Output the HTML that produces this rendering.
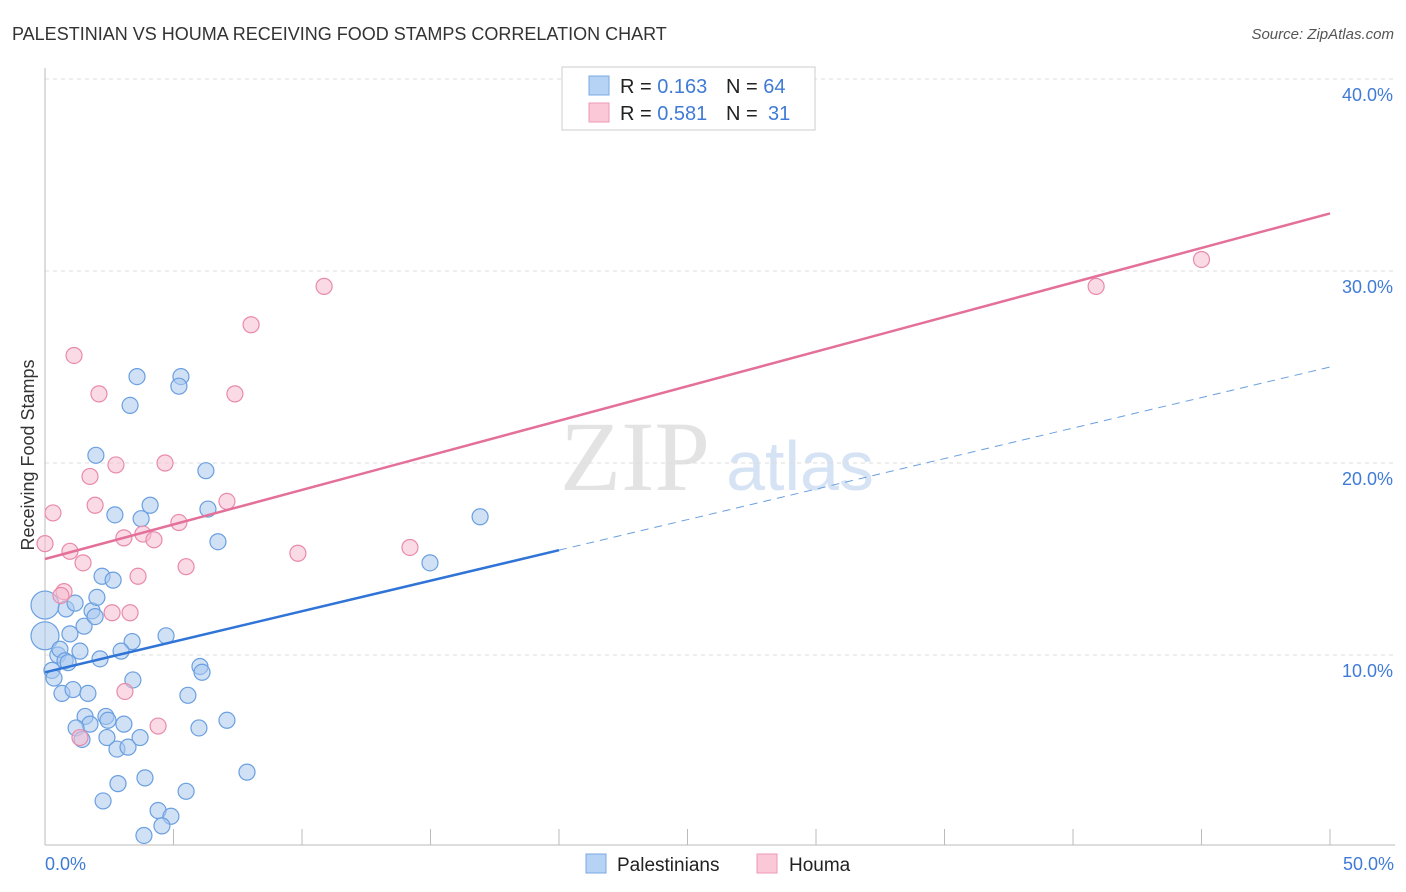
<!DOCTYPE html>
<html><head><meta charset="utf-8"><style>
body{margin:0;background:#fff;font-family:"Liberation Sans",sans-serif}
svg{display:block}
</style></head><body>
<svg id="c" width="1406" height="892" viewBox="0 0 1406 892" xmlns="http://www.w3.org/2000/svg">
<text x="12" y="40" font-size="18" fill="#333">PALESTINIAN VS HOUMA RECEIVING FOOD STAMPS CORRELATION CHART</text>
<text x="1394" y="39" font-size="15" fill="#555" font-style="italic" text-anchor="end">Source: ZipAtlas.com</text>
<text x="635" y="490" font-size="100" fill="#e3e3e3" font-family="Liberation Serif,serif" text-anchor="middle">ZIP</text>
<text x="800" y="490" font-size="70" fill="#d5e3f5" text-anchor="middle">atlas</text>
<g id="grid"></g><g id="axes"></g><g id="marks"></g>
<text transform="translate(34,455) rotate(-90)" font-size="18" fill="#333" text-anchor="middle">Receiving Food Stamps</text>
<text x="45" y="870" font-size="18" fill="#3f7bd6">0.0%</text>
<text x="1394" y="870" font-size="18" fill="#3f7bd6" text-anchor="end">50.0%</text>
<g>
<rect x="562" y="67" width="253" height="63" fill="#fff" stroke="#ccc"/>
<rect x="589" y="76" width="20" height="19" fill="#b6d2f4" stroke="#7aa9e4"/>
<rect x="589" y="103" width="20" height="19" fill="#fbc8d8" stroke="#ec9ab5"/>
<text x="620" y="93" font-size="20" fill="#222">R = <tspan fill="#3f7bd6">0.163</tspan><tspan x="726">N = </tspan><tspan fill="#3f7bd6">64</tspan></text>
<text x="620" y="120" font-size="20" fill="#222">R = <tspan fill="#3f7bd6">0.581</tspan><tspan x="726">N = </tspan><tspan fill="#3f7bd6" x="768">31</tspan></text>
</g>
<g>
<rect x="586" y="854" width="20" height="19" fill="#b6d2f4" stroke="#7aa9e4"/>
<text x="617" y="871" font-size="19" fill="#222">Palestinians</text>
<rect x="757" y="854" width="20" height="19" fill="#fbc8d8" stroke="#ec9ab5"/>
<text x="789" y="871" font-size="19" fill="#222">Houma</text>
</g>
</svg>
<script>
const yTicks=[10,20,30,40];
const xTicks=[0,5,10,15,20,25,30,35,40,45,50];
const blueX=[0,0,0.27,0.35,0.5,0.58,0.78,0.9,0.66,1.09,0.82,1.17,0.97,1.52,1.83,1.95,2.02,2.22,2.65,1.67,1.56,1.75,1.21,1.44,2.37,2.45,2.41,3.07,2.8,3.23,3.7,2.26,2.84,3.89,3.42,3.39,2.96,4.71,3.58,5.29,5.21,3.31,1.98,2.72,4.09,3.74,6.26,6.34,6.73,6.03,6.11,5.56,5.99,7.08,7.86,5.49,4.4,4.9,4.55,3.85,16.93,14.98,2.14,1.36];
const blueY=[12.6,11.0,9.2,8.8,10.0,10.3,9.7,9.6,8.0,8.2,12.4,12.7,11.1,11.5,12.3,12.0,13.0,14.1,13.9,8.0,6.8,6.4,6.2,5.6,6.8,6.6,5.7,6.4,5.1,5.2,5.7,2.4,3.3,3.6,8.7,10.7,10.2,11.0,24.5,24.5,24.0,23.0,20.4,17.3,17.8,17.1,19.6,17.6,15.9,9.4,9.1,7.9,6.2,6.6,3.9,2.9,1.9,1.6,1.1,0.6,17.2,14.8,9.8,10.2];
const pinkX=[0,0.31,1.13,2.1,1.75,1.95,0.97,1.48,0.74,0.62,2.76,3.07,3.81,4.24,4.67,5.21,5.49,3.62,2.61,3.31,3.11,4.4,1.36,8.02,7.39,7.08,10.86,9.84,14.2,40.9,45.0];
const pinkY=[15.8,17.4,25.6,23.6,19.3,17.8,15.4,14.8,13.3,13.1,19.9,16.1,16.3,16.0,20.0,16.9,14.6,14.1,12.2,12.2,8.1,6.3,5.7,27.2,23.6,18.0,29.2,15.3,15.6,29.2,30.6];
const blueLine=[9.1,25.0];
const pinkLine=[15.0,33.0];
const X=v=>45+v*25.7, Y=v=>847-v*19.2;
const NS="http://www.w3.org/2000/svg";
function mk(t,a,p){const e=document.createElementNS(NS,t);for(const k in a)e.setAttribute(k,a[k]);p.appendChild(e);return e;}
const grid=document.getElementById('grid'),axes=document.getElementById('axes'),marks=document.getElementById('marks');
yTicks.forEach(t=>{
 const l=mk('line',{x1:45,x2:1395,y1:Y(t),y2:Y(t),stroke:'#ddd','stroke-dasharray':'4,4'},grid);
 
 
 const tx=mk('text',{x:1393,y:Y(t)+22,'font-size':18,fill:'#3f7bd6','text-anchor':'end'},grid);
 tx.textContent=t.toFixed(1)+'%';
 
 
});
let ax=mk('line',{x1:45,x2:45,y1:68,y2:845,stroke:'#bbb'},axes);


ax=mk('line',{x1:45,x2:1395,y1:845,y2:845,stroke:'#bbb'},axes);


xTicks.forEach(t=>{
 const l=mk('line',{x1:X(t),x2:X(t),y1:829,y2:845,stroke:'#bbb'},axes);
 
 
});
function pts(xs,ys,fill,stroke,name){
 xs.forEach((x,i)=>{
  const big=(x===0&&name==='blue-point'&&i<2);
  const c=mk('circle',{cx:X(x),cy:Y(ys[i]),r:big?14:8,fill:fill,'fill-opacity':0.55,stroke:stroke,'stroke-width':1.2},marks);
  
  
 });
}
pts(blueX,blueY,'#a9c8ef','#6a9fe0','blue-point');
pts(pinkX,pinkY,'#f6bcd0','#e98aab','pink-point');
const bAt=x=>blueLine[0]+(blueLine[1]-blueLine[0])*x/50;
let ln=mk('line',{x1:X(0),y1:Y(bAt(0)),x2:X(20),y2:Y(bAt(20)),stroke:'#2f74d6','stroke-width':2.5},marks);


ln=mk('line',{x1:X(20),y1:Y(bAt(20)),x2:X(50),y2:Y(bAt(50)),stroke:'#6a9fe0','stroke-width':1,'stroke-dasharray':'8,6'},marks);


ln=mk('line',{x1:X(0),y1:Y(pinkLine[0]),x2:X(50),y2:Y(pinkLine[1]),stroke:'#e4709a','stroke-width':2.5},marks);


</script>
</body></html>
